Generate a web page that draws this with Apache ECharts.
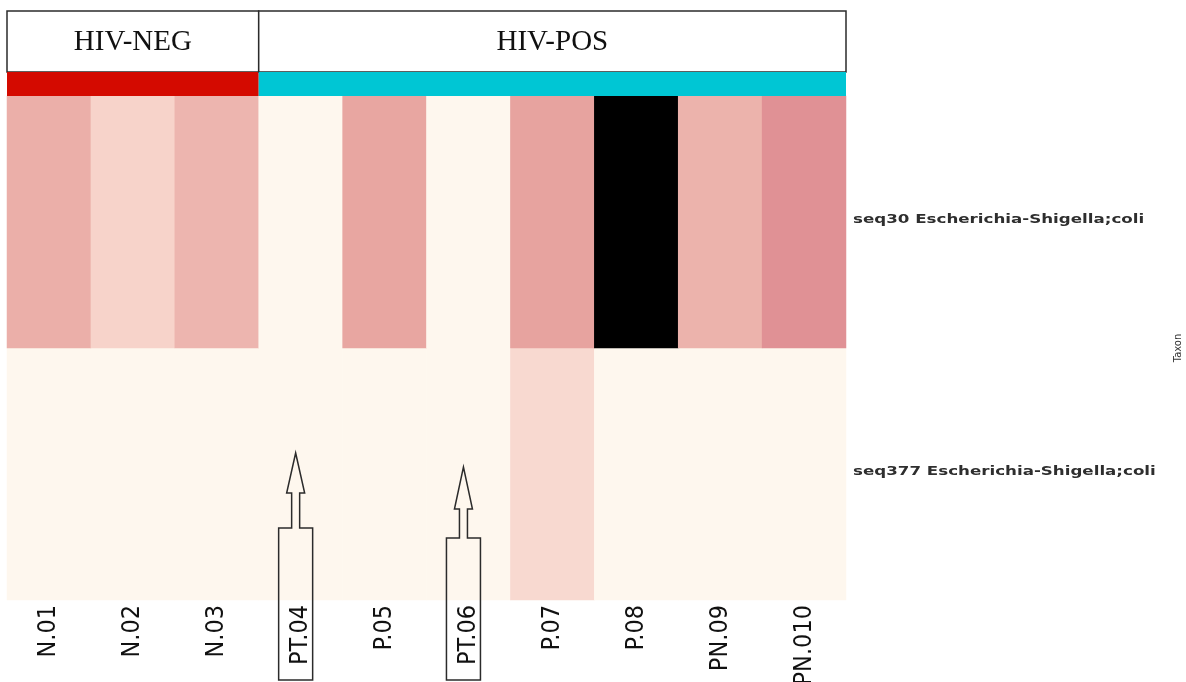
<!DOCTYPE html>
<html>
<head>
<meta charset="utf-8">
<title>Escherichia-Shigella abundance by sample</title>
<script src="https://cdn.jsdelivr.net/npm/echarts@6/dist/echarts.min.js"></script>
<style>
  html, body { margin: 0; padding: 0; background: #ffffff; }
  #chart { width: 1186px; height: 682px; }
</style>
</head>
<body>
<div id="chart"></div>
<script>
// Samples (columns) and taxa (rows, listed bottom to top)
const samples = ['N.01', 'N.02', 'N.03', 'PT.04', 'P.05', 'PT.06', 'P.07', 'P.08', 'PN.09', 'PN.010'];
const taxa = ['seq377 Escherichia-Shigella;coli', 'seq30 Escherichia-Shigella;coli'];

// Scaled abundance per sample
const seq30Values = [1.8, 1.0, 1.67, 0, 2.0, 0, 2.1, 6.0, 1.72, 2.7];
const seq377Values = [0, 0, 0, 0, 0, 0, 0.82, 0, 0, 0];

// Sample groups, in column order
const groupNames = ['HIV-NEG', 'HIV-POS'];
const groupSizes = [3, 7];

// Samples flagged with an arrow callout
const flaggedSamples = ['PT.04', 'PT.06'];

// ---- styling ----
const groupColors = ['#d40a00', '#00c6d4'];
const scaleColors = ['#fef7ee', '#f7d3ca', '#e8a6a1', '#dc8890', '#a05a62', '#50282c', '#000000'];
const arrowShape = {
  'PT.04': { tip: 147, head: 107, box: 72 },
  'PT.06': { tip: 133, head: 91, box: 62 }
};

const heatData = [];
[seq377Values, seq30Values].forEach((row, r) => {
  row.forEach((v, c) => heatData.push([c, r, v]));
});

const groupData = [];
let start = 0;
groupSizes.forEach((n, g) => {
  groupData.push([start, start + n - 1, g]);
  start += n;
});

const flagData = flaggedSamples.map(s => [samples.indexOf(s), 0]);
const taxonData = taxa.map((t, i) => [0, i]);

const chart = echarts.init(document.getElementById('chart'));

chart.setOption({
  animation: false,
  backgroundColor: '#ffffff',
  grid: [
    { left: 7, right: 340, top: 96, bottom: 82, outerBoundsMode: 'none', containLabel: false },
    { left: 7, right: 340, top: 11, height: 85, outerBoundsMode: 'none', containLabel: false }
  ],
  xAxis: [
    {
      type: 'category',
      gridIndex: 0,
      data: samples,
      axisLine: { show: false },
      axisTick: { show: false },
      splitLine: { show: false },
      axisLabel: {
        rotate: 90,
        margin: 5,
        interval: 0,
        fontFamily: '"Liberation Sans Narrow", "DejaVu Sans Condensed", sans-serif',
        fontSize: 25,
        color: '#111111'
      }
    },
    {
      type: 'category',
      gridIndex: 1,
      data: samples,
      show: false
    }
  ],
  yAxis: [
    {
      type: 'category',
      gridIndex: 0,
      data: taxa,
      position: 'right',
      axisLine: { show: false },
      axisTick: { show: false },
      splitLine: { show: false },
      axisLabel: { show: false },
      name: 'Taxon',
      nameLocation: 'middle',
      nameRotate: 90,
      nameGap: 327,
      nameTextStyle: {
        fontFamily: '"DejaVu Sans", sans-serif',
        fontSize: 10,
        color: '#333333',
        padding: [0, 0, 0, 0]
      }
    },
    {
      type: 'value',
      gridIndex: 1,
      min: 0,
      max: 1,
      show: false
    }
  ],
  visualMap: {
    show: false,
    type: 'continuous',
    seriesIndex: 0,
    min: 0,
    max: 6,
    dimension: 2,
    inRange: { color: scaleColors }
  },
  series: [
    {
      type: 'heatmap',
      xAxisIndex: 0,
      yAxisIndex: 0,
      data: heatData,
      itemStyle: { borderWidth: 0 },
      emphasis: { disabled: true }
    },
    {
      // group header boxes with the colour bar underneath
      type: 'custom',
      xAxisIndex: 1,
      yAxisIndex: 1,
      data: groupData,
      clip: false,
      renderItem: function (params, api) {
        const cs = params.coordSys;
        const bw = api.size([1, 0])[0];
        const x0 = api.coord([api.value(0), 0.5])[0] - bw / 2;
        const x1 = api.coord([api.value(1), 0.5])[0] + bw / 2;
        const g = api.value(2);
        const boxH = 61;
        return {
          type: 'group',
          children: [
            {
              type: 'rect',
              shape: { x: x0, y: cs.y, width: x1 - x0, height: boxH },
              style: { fill: '#ffffff', stroke: '#2b2b2b', lineWidth: 1.5 }
            },
            {
              type: 'text',
              style: {
                x: (x0 + x1) / 2,
                y: cs.y + boxH / 2 + 1,
                text: groupNames[g],
                align: 'center',
                verticalAlign: 'middle',
                fontFamily: '"Liberation Serif", "DejaVu Serif", serif',
                fontSize: 29,
                fill: '#111111'
              }
            },
            {
              type: 'rect',
              shape: { x: x0, y: cs.y + boxH, width: x1 - x0, height: cs.height - boxH },
              style: { fill: groupColors[g] }
            }
          ]
        };
      }
    },
    {
      // taxon names to the right of each row, stretched horizontally
      type: 'custom',
      xAxisIndex: 0,
      yAxisIndex: 0,
      data: taxonData,
      clip: false,
      renderItem: function (params, api) {
        const cs = params.coordSys;
        const y = api.coord([0, api.value(1)])[1] - 2;
        return {
          type: 'text',
          x: cs.x + cs.width + 7,
          y: y,
          scaleX: 1.39,
          style: {
            x: 0,
            y: 0,
            text: taxa[api.value(1)],
            align: 'left',
            verticalAlign: 'middle',
            fontFamily: '"DejaVu Sans", sans-serif',
            fontWeight: 'bold',
            fontSize: 12,
            fill: '#2e2e2e'
          }
        };
      }
    },
    {
      // arrow callouts around flagged sample labels
      type: 'custom',
      xAxisIndex: 0,
      yAxisIndex: 0,
      data: flagData,
      clip: false,
      z: 5,
      renderItem: function (params, api) {
        const cs = params.coordSys;
        const name = samples[api.value(0)];
        const a = arrowShape[name];
        const cx = api.coord([api.value(0), 0])[0] - 5;
        const by = cs.y + cs.height;
        const bh = 17, sh = 4, hh = 9, below = 80;
        const pts = [
          [cx - bh, by + below],
          [cx - bh, by - a.box],
          [cx - sh, by - a.box],
          [cx - sh, by - a.head],
          [cx - hh, by - a.head],
          [cx, by - a.tip],
          [cx + hh, by - a.head],
          [cx + sh, by - a.head],
          [cx + sh, by - a.box],
          [cx + bh, by - a.box],
          [cx + bh, by + below]
        ];
        return {
          type: 'polygon',
          shape: { points: pts },
          style: { fill: null, stroke: '#2b2b2b', lineWidth: 1.5 }
        };
      }
    }
  ]
});
</script>
</body>
</html>
